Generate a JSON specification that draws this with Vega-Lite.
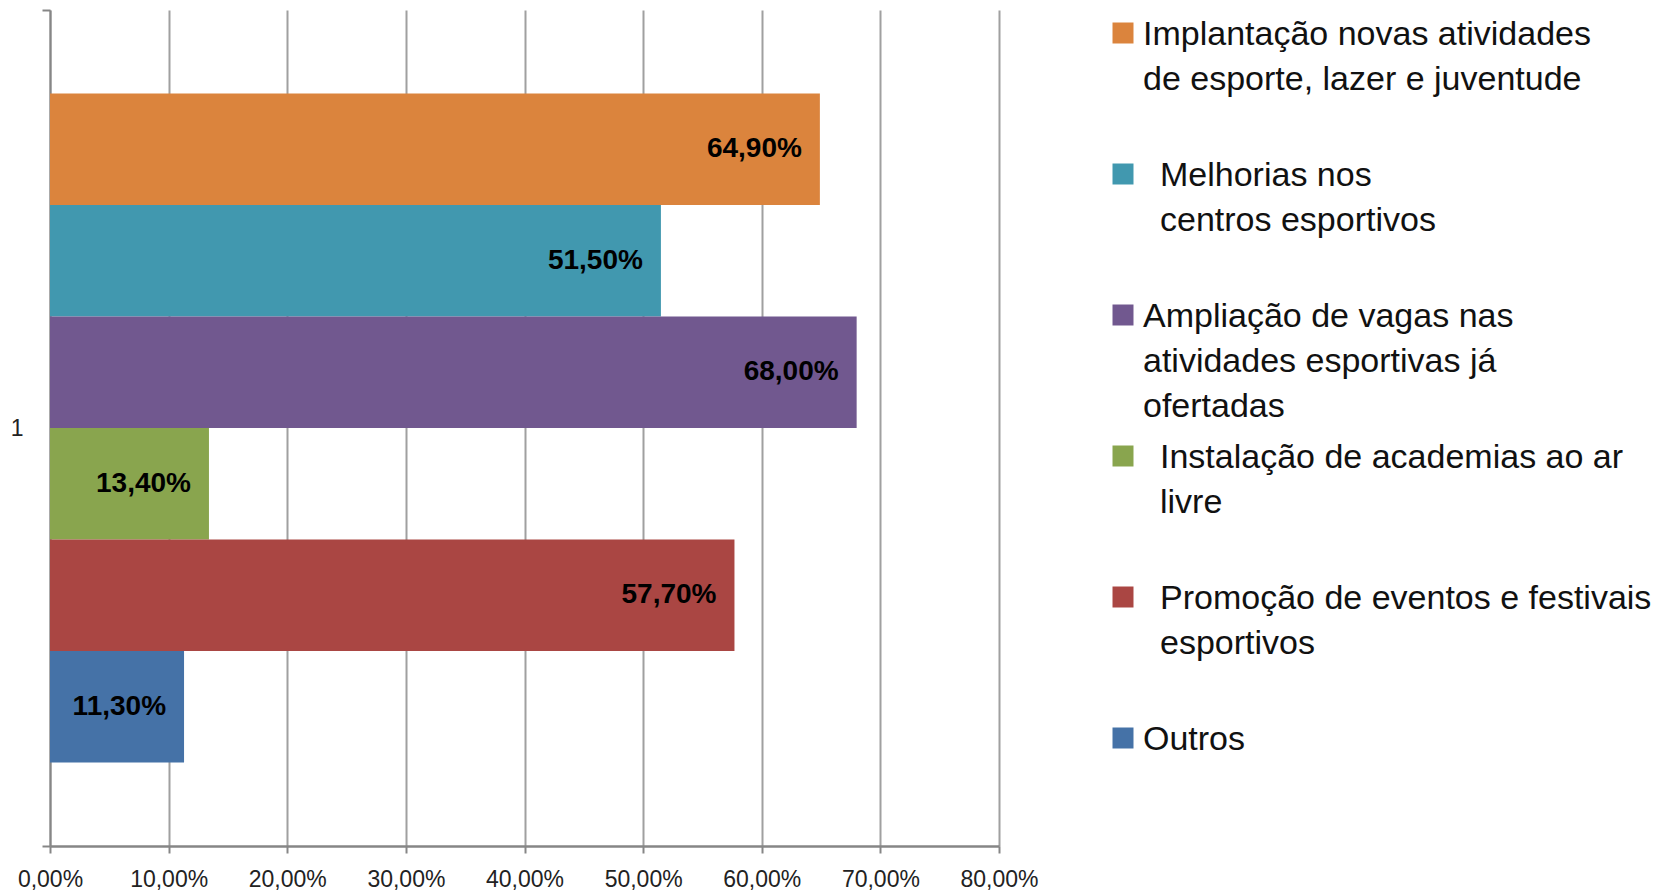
{
  "$schema": "https://vega.github.io/schema/vega-lite/v6.json",
  "autosize": "none",
  "width": 949,
  "height": 836,
  "padding": {"left": 50, "top": 10, "right": 658, "bottom": 47},
  "background": "white",
  "config": {
    "locale": {"number": {"decimal": ",", "thousands": ".", "grouping": [3], "currency": ["R$", ""]}},
    "view": {"stroke": null},
    "font": "Liberation Sans"
  },
  "data": {
    "values": [
      {"grupo": "1", "serie": "Implantação novas atividades|de esporte, lazer e juventude|\u00a0", "valor": 0.649},
      {"grupo": "1", "serie": "\u200b\u2002Melhorias nos|\u200b\u2002centros esportivos|\u00a0", "valor": 0.515},
      {"grupo": "1", "serie": "Ampliação de vagas nas|atividades esportivas já|ofertadas", "valor": 0.68},
      {"grupo": "1", "serie": "\u200b\u2002Instalação de academias ao ar|\u200b\u2002livre|\u00a0", "valor": 0.134},
      {"grupo": "1", "serie": "\u200b\u2002Promoção de eventos e festivais|\u200b\u2002esportivos|\u00a0", "valor": 0.577},
      {"grupo": "1", "serie": "Outros|\u00a0|\u00a0", "valor": 0.113}
    ]
  },
  "encoding": {
    "y": {
      "field": "grupo",
      "type": "nominal",
      "scale": {"paddingInner": 0, "paddingOuter": 0},
      "axis": {
        "title": null,
        "domainColor": "#868686",
        "domainWidth": 2,
        "tickColor": "#868686",
        "tickWidth": 2,
        "tickSize": 8,
        "tickBand": "extent",
        "labelFont": "Liberation Sans",
        "labelFontSize": 23,
        "labelColor": "#222222",
        "labelPadding": 19,
        "grid": false
      }
    },
    "yOffset": {
      "field": "serie",
      "type": "nominal",
      "sort": null,
      "scale": {"paddingInner": 0, "paddingOuter": 0.75}
    },
    "x": {
      "field": "valor",
      "type": "quantitative",
      "scale": {"domain": [0, 0.8], "nice": false},
      "axis": {
        "title": null,
        "values": [0, 0.1, 0.2, 0.3, 0.4, 0.5, 0.6, 0.7, 0.8],
        "format": ".2%",
        "labelOverlap": false,
        "labelFlush": false,
        "domainColor": "#868686",
        "domainWidth": 2.5,
        "tickColor": "#868686",
        "tickWidth": 2,
        "tickSize": 7,
        "grid": true,
        "gridColor": "#a0a0a0",
        "gridWidth": 2,
        "labelFont": "Liberation Sans",
        "labelFontSize": 23,
        "labelColor": "#222222",
        "labelPadding": 15
      }
    }
  },
  "layer": [
    {
      "mark": {"type": "bar"},
      "encoding": {
        "color": {
          "field": "serie",
          "type": "nominal",
          "sort": null,
          "scale": {"range": ["#DB843D", "#4198AF", "#71588F", "#89A54E", "#AA4643", "#4572A7"]},
          "legend": {
            "title": null,
            "orient": "none",
            "legendX": 1056,
            "legendY": 6,
            "padding": 0,
            "symbolType": "square",
            "symbolSize": 441,
            "symbolStrokeWidth": 0,
            "labelExpr": "split(datum.label, '|')",
            "labelFont": "Liberation Sans",
            "labelFontSize": 34,
            "labelColor": "#111111",
            "labelLimit": 700,
            "labelOffset": 3,
            "labelBaseline": "top",
            "rowPadding": 15,
            "encode": {"labels": {"update": {"lineHeight": {"value": 45}, "dy": {"value": -15}}}}
          }
        }
      }
    },
    {
      "mark": {"type": "text", "align": "right", "baseline": "middle", "dx": -18, "fontSize": 28, "fontWeight": "bold", "font": "Liberation Sans", "color": "#000000"},
      "encoding": {
        "text": {"field": "valor", "type": "quantitative", "format": ".2%"}
      }
    }
  ]
}
